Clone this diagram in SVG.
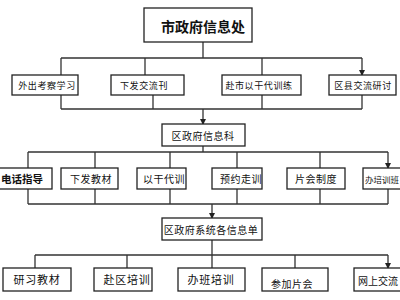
<svg xmlns="http://www.w3.org/2000/svg" width="400" height="300" viewBox="0 0 400 300">
<defs>
<marker id="ah" markerWidth="6" markerHeight="6" refX="5" refY="3" orient="auto" markerUnits="userSpaceOnUse">
<path d="M0,0 L6,3 L0,6 Z" fill="#222"/>
</marker>
<style>
rect{fill:#fff;stroke:#222;stroke-width:1.3}
text{font-family:"Noto Sans CJK SC","Noto Sans",sans-serif;fill:#111;text-anchor:middle;dominant-baseline:central}
.t1{font-size:14px;font-weight:bold}
.s{font-size:9px;letter-spacing:0.6px}
.m{font-size:10px;letter-spacing:0.5px}
.l{font-size:11px;letter-spacing:0.8px}
.line{fill:none;stroke:#333;stroke-width:1.3}
.arr{fill:none;stroke:#333;stroke-width:1.3;marker-end:url(#ah)}
</style>
</defs>
<g id="connectors">
<path class="line" d="M203,42 V58 M61,58 H362"/>
<path class="arr" d="M61,58 V75 M145,58 V75 M262,58 V75 M362,58 V75"/>
<path class="line" d="M61,95 V109 M153,95 V109 M262,95 V109 M362,95 V109 M61,109 H362"/>
<path class="arr" d="M203,109 V124"/>
<path class="line" d="M203,146 V152 M28,152 H388"/>
<path class="arr" d="M28,152 V168 M95,152 V168 M170,152 V168 M237,152 V168 M320,152 V168 M388,152 V168"/>
<path class="line" d="M28,189 V204 M95,189 V204 M170,189 V204 M237,189 V204 M320,189 V204 M388,189 V204 M28,204 H388"/>
<path class="arr" d="M212,204 V218"/>
<path class="line" d="M212,240 V255 M35,255 H388"/>
<path class="arr" d="M35,255 V268 M127,255 V268 M212,255 V268 M295,255 V268 M388,255 V268"/>
</g>
<g id="n0"><rect x="144" y="8" width="108" height="34"/><text class="t1" x="203" y="26">市政府信息处</text></g>
<g id="n1"><rect x="12" y="75" width="66" height="20"/><text class="s" x="47" y="85">外出考察学习</text></g>
<g id="n2"><rect x="111" y="75" width="73" height="20"/><text class="s" x="144" y="85">下发交流刊</text></g>
<g id="n3"><rect x="222" y="75" width="79" height="20"/><text class="s" x="259" y="85">赴市以干代训练</text></g>
<g id="n4"><rect x="329" y="75" width="67" height="20"/><text class="s" x="363" y="85">区县交流研讨</text></g>
<g id="n5"><rect x="162" y="124" width="83" height="22"/><text class="m" x="203" y="135">区政府信息科</text></g>
<g id="n6"><rect x="-10" y="168" width="62" height="21"/><text x="22" y="178.5" style="font-size:10.5px;font-weight:bold">电话指导</text></g>
<g id="n7"><rect x="61" y="168" width="57" height="21"/><text class="m" x="91" y="178.5">下发教材</text></g>
<g id="n8"><rect x="137" y="168" width="49" height="21"/><text class="m" x="164" y="178.5">以干代训</text></g>
<g id="n9"><rect x="212" y="168" width="50" height="21"/><text class="m" x="241" y="178.5">预约走训</text></g>
<g id="n10"><rect x="287" y="168" width="58" height="21"/><text class="m" x="316" y="178.5">片会制度</text></g>
<g id="n11"><rect x="363" y="168" width="60" height="21"/><text x="382" y="178.5" style="font-size:8.5px">办培训班</text></g>
<g id="n12"><rect x="162" y="218" width="100" height="22"/><text class="m" x="211" y="229">区政府系统各信息单</text></g>
<g id="n13"><rect x="3" y="268" width="68" height="23"/><text class="l" x="37" y="279">研习教材</text></g>
<g id="n14"><rect x="94" y="268" width="58" height="23"/><text class="l" x="127" y="279">赴区培训</text></g>
<g id="n15"><rect x="178" y="268" width="67" height="23"/><text class="l" x="211" y="279">办班培训</text></g>
<g id="n16"><rect x="262" y="268" width="66" height="23"/><text class="m" x="292" y="283">参加片会</text></g>
<g id="n17"><rect x="354" y="268" width="68" height="23"/><text x="378" y="280" style="font-size:10px">网上交流</text></g>
</svg>
